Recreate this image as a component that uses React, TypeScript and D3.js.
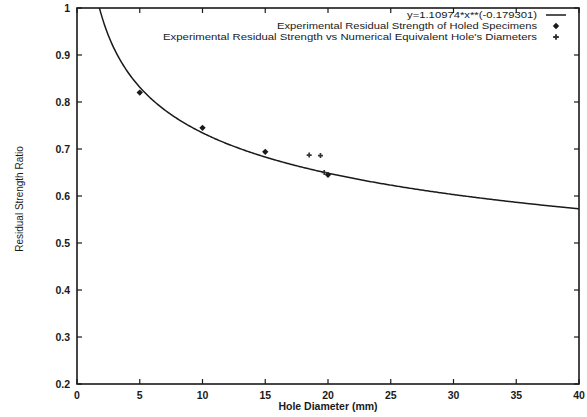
import React, { useEffect, useRef } from "react";
import * as d3 from "d3";

// fitted power law y = a * x^b
const fitA = 1.10974;
const fitB = -0.179301;

// experimental residual strength of holed specimens
const holeDiam = [5, 10, 15, 20];
const holeRatio = [0.82, 0.745, 0.694, 0.645];

// numerical equivalent hole diameters
const equivDiam = [18.5, 19.4, 19.7];
const equivRatio = [0.687, 0.686, 0.65];

const xTicks = [0, 5, 10, 15, 20, 25, 30, 35, 40];
const yTicks = [0.2, 0.3, 0.4, 0.5, 0.6, 0.7, 0.8, 0.9, 1];

const legendLabels = [
  "y=1.10974*x**(-0.179301)",
  "Experimental Residual Strength of Holed Specimens",
  "Experimental Residual Strength vs Numerical Equivalent Hole's Diameters",
];

export default function App() {
  const ref = useRef<SVGSVGElement | null>(null);

  useEffect(() => {
    const width = 587;
    const height = 417;
    const left = 77, right = 579, top = 8, bottom = 384;
    const ink = "#1a1a1a";
    const font = "'Liberation Sans', Arial, sans-serif";

    const svg = d3.select(ref.current);
    svg.selectAll("*").remove();
    svg.attr("width", width).attr("height", height);

    const x = d3.scaleLinear().domain([0, 40]).range([left, right]);
    const y = d3.scaleLinear().domain([0.2, 1]).range([bottom, top]);

    svg.append("rect").attr("width", width).attr("height", height).attr("fill", "#fff");

    const tk = 5;
    // ticks on all four sides, pointing inward
    xTicks.forEach((t) => {
      svg.append("line").attr("x1", x(t)).attr("x2", x(t)).attr("y1", bottom).attr("y2", bottom - tk)
        .attr("stroke", ink).attr("stroke-width", 1.2);
      svg.append("line").attr("x1", x(t)).attr("x2", x(t)).attr("y1", top).attr("y2", top + tk)
        .attr("stroke", ink).attr("stroke-width", 1.2);
      svg.append("text").attr("x", x(t)).attr("y", bottom + 15).attr("text-anchor", "middle")
        .attr("font-family", font).attr("font-size", 10.5).attr("font-weight", "bold").attr("fill", ink)
        .text(String(t));
    });
    yTicks.forEach((t) => {
      svg.append("line").attr("x1", left).attr("x2", left + tk).attr("y1", y(t)).attr("y2", y(t))
        .attr("stroke", ink).attr("stroke-width", 1.2);
      svg.append("line").attr("x1", right).attr("x2", right - tk).attr("y1", y(t)).attr("y2", y(t))
        .attr("stroke", ink).attr("stroke-width", 1.2);
      svg.append("text").attr("x", left - 7).attr("y", y(t) + 3.5).attr("text-anchor", "end")
        .attr("font-family", font).attr("font-size", 10.5).attr("font-weight", "bold").attr("fill", ink)
        .text(String(t));
    });

    svg.append("rect").attr("x", left).attr("y", top).attr("width", right - left).attr("height", bottom - top)
      .attr("fill", "none").attr("stroke", ink).attr("stroke-width", 1.6);

    // axis titles
    svg.append("text").attr("x", (left + right) / 2).attr("y", bottom + 26).attr("text-anchor", "middle")
      .attr("font-family", font).attr("font-size", 10.5).attr("font-weight", "bold").attr("fill", ink)
      .text("Hole Diameter (mm)");
    svg.append("text").attr("transform", `translate(23, ${(top + bottom) / 2 + 3}) rotate(-90)`)
      .attr("text-anchor", "middle").attr("font-family", font).attr("font-size", 10).attr("fill", ink)
      .text("Residual Strength Ratio");

    // fitted curve, clipped to plot area
    svg.append("clipPath").attr("id", "plotclip").append("rect")
      .attr("x", left).attr("y", top).attr("width", right - left).attr("height", bottom - top);
    const xs = d3.range(1.5, 40.01, 0.1);
    const line = d3.line<number>().x((d) => x(d)).y((d) => y(fitA * Math.pow(d, fitB)));
    svg.append("path").attr("d", line(xs)).attr("fill", "none").attr("stroke", ink)
      .attr("stroke-width", 1.5).attr("clip-path", "url(#plotclip)");

    const diamond = d3.symbol().type(d3.symbolDiamond2).size(26);
    const cross = d3.symbol().type(d3.symbolCross).size(18);

    holeDiam.forEach((d, i) => {
      svg.append("path").attr("d", diamond()).attr("transform", `translate(${x(d)}, ${y(holeRatio[i])})`)
        .attr("fill", ink);
    });
    equivDiam.forEach((d, i) => {
      svg.append("path").attr("d", d3.symbol().type(d3.symbolCross).size(14)()).attr("transform", `translate(${x(d)}, ${y(equivRatio[i])})`)
        .attr("fill", "#333");
    });

    // legend
    const legX = 537;
    const legY = [15, 26, 37];
    const legLen = [130, 260, 374];
    legendLabels.forEach((lab, i) => {
      svg.append("text").attr("x", legX).attr("y", legY[i] + 3.3).attr("text-anchor", "end")
        .attr("font-family", font).attr("font-size", 9.5).attr("fill", ink)
        .attr("textLength", legLen[i]).attr("lengthAdjust", "spacingAndGlyphs").text(lab);
    });
    svg.append("line").attr("x1", 546).attr("x2", 566).attr("y1", legY[0]).attr("y2", legY[0])
      .attr("stroke", ink).attr("stroke-width", 1.5);
    svg.append("path").attr("d", diamond()).attr("transform", `translate(556, ${legY[1]})`).attr("fill", ink);
    svg.append("path").attr("d", cross()).attr("transform", `translate(556, ${legY[2]})`).attr("fill", "#333");
  }, []);

  return (
    <div style={{ position: "absolute", left: 0, top: 0 }}>
      <svg ref={ref} />
    </div>
  );
}
